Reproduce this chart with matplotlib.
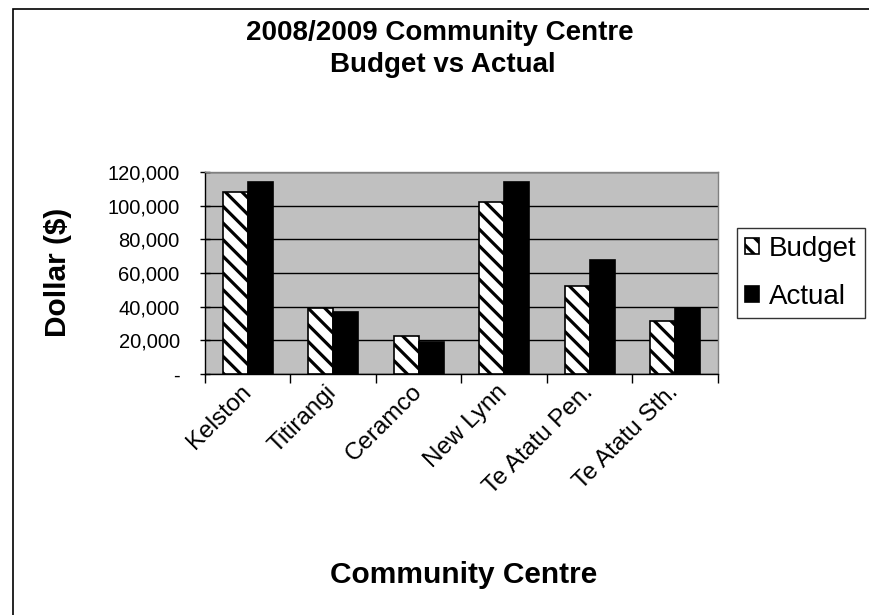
import matplotlib
matplotlib.use("Agg")
import matplotlib.pyplot as plt
import numpy as np
from matplotlib.patches import Rectangle
from matplotlib.ticker import FuncFormatter, FixedLocator, NullFormatter
from matplotlib.transforms import ScaledTranslation, blended_transform_factory

plt.rcParams['font.family'] = ['Liberation Sans', 'DejaVu Sans']
plt.rcParams['hatch.linewidth'] = 2.3

categories = ["Kelston", "Titirangi", "Ceramco", "New Lynn", "Te Atatu Pen.", "Te Atatu Sth."]
budget = [108000, 39000, 22300, 102000, 52000, 31700]
actual = [114300, 36900, 19000, 114300, 68000, 39100]
y_ticks = [0, 20000, 40000, 60000, 80000, 100000, 120000]

W, H = 870, 615
DPI = 100
fig = plt.figure(figsize=(W / DPI, H / DPI), dpi=DPI)
fig.patch.set_facecolor('white')

# chart-area border (right/bottom edges fall outside the image)
fig.patches.append(Rectangle((13 / W, -0.05), 1.2, 1 - 9 / H + 0.05,
                             transform=fig.transFigure, fill=False,
                             edgecolor='black', linewidth=1.2, zorder=0))

ax = fig.add_axes([205 / W, 1 - 374 / H, 513 / W, 202 / H])
ax.set_facecolor('#C0C0C0')

x = np.arange(len(categories))
bw = 0.292
ax.bar(x - bw / 2, budget, bw, facecolor='white', edgecolor='black',
       hatch='\\\\', linewidth=1.2, label='Budget', zorder=3)
ax.bar(x + bw / 2, actual, bw, facecolor='black', edgecolor='black',
       linewidth=1.2, label='Actual', zorder=3)

ax.set_xlim(-0.5, len(categories) - 0.5)
ax.set_ylim(0, 120000)
ax.set_yticks(y_ticks)
ax.yaxis.set_major_formatter(FuncFormatter(lambda v, p: '-' if v == 0 else f'{v:,.0f}'))
ax.yaxis.grid(True, color='black', linewidth=1.0, zorder=1)
ax.set_axisbelow(True)

ax.xaxis.set_major_locator(FixedLocator(np.arange(len(categories) + 1) - 0.5))
ax.xaxis.set_major_formatter(NullFormatter())
ax.tick_params(axis='x', which='major', direction='out', length=6.5, width=1)
ax.tick_params(axis='y', direction='inout', length=6.5, width=1, labelsize=14.5, pad=15)

# rotated category labels (anchored at baseline-right end)
trans = blended_transform_factory(ax.transData, ax.transAxes) + \
    ScaledTranslation(4 / DPI, -19 / DPI, fig.dpi_scale_trans)
for i, c in enumerate(categories):
    ax.text(i, 0, c, transform=trans, rotation=45, rotation_mode='anchor',
            ha='right', va='baseline', fontsize=17.5)

for s in ['top', 'right']:
    ax.spines[s].set_color('#808080')
for s in ['left', 'bottom']:
    ax.spines[s].set_color('black')
for s in ax.spines.values():
    s.set_linewidth(1.0)

fig.text(440 / W, 1 - 40 / H, '2008/2009 Community Centre', ha='center', va='baseline',
         fontsize=20, fontweight='bold')
fig.text(443 / W, 1 - 72 / H, 'Budget vs Actual', ha='center', va='baseline',
         fontsize=20, fontweight='bold')
fig.text(464 / W, 1 - 583 / H, 'Community Centre', ha='center', va='baseline',
         fontsize=21.5, fontweight='bold')
fig.text(58 / W, 1 - 272 / H, 'Dollar ($)', ha='center', va='center',
         fontsize=21.5, fontweight='bold', rotation=90)

leg = fig.legend(loc='center left', bbox_to_anchor=(737 / W, 1 - 273 / H),
                 fontsize=20, frameon=True, fancybox=False, handlelength=0.5,
                 handleheight=0.5, handletextpad=0.35, borderpad=0.3,
                 labelspacing=0.8, borderaxespad=0)
leg.get_frame().set_edgecolor('black')
leg.get_frame().set_linewidth(1.0)

fig.savefig('out.png', dpi=DPI)
